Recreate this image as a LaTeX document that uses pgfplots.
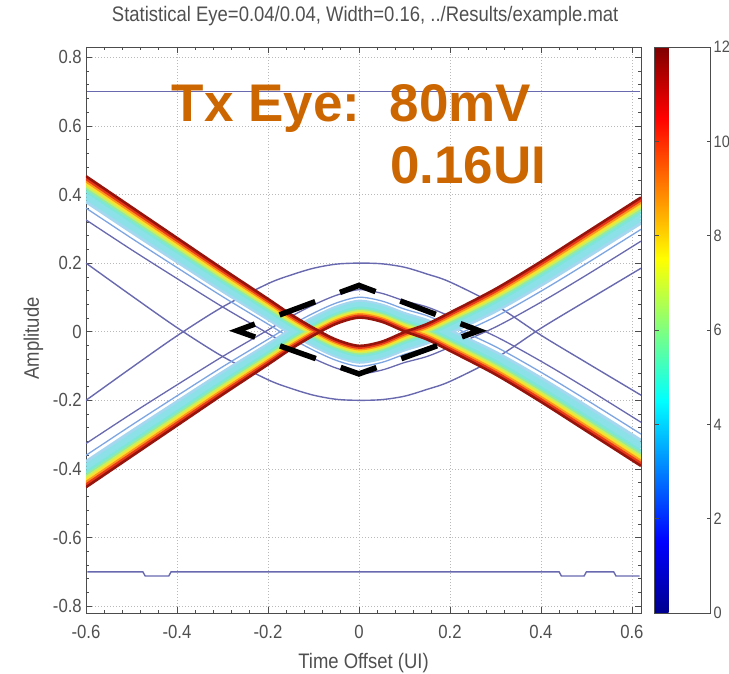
\documentclass[border=0pt]{standalone}
\usepackage{pgfplots}
\pgfplotsset{compat=1.18}
\usepackage{pgfplotstable}
\usepackage{fontspec}
\setmainfont{Liberation Sans}
\newfontfamily\mfont[FakeStretch=0.88]{Liberation Sans}
\newcommand{\lab}{\mfont\fontsize{19}{22}\selectfont}
\newcommand{\labl}{\mfont\fontsize{21}{24}\selectfont}
\newcommand{\labc}{\mfont\fontsize{16.5}{20}\selectfont}
\definecolor{txt}{RGB}{80,80,80}
\definecolor{ora}{RGB}{204,102,0}
\definecolor{cl}{RGB}{105,105,175}
\definecolor{lb}{RGB}{125,165,225}
\definecolor{c1}{RGB}{165,215,240}
\definecolor{c2}{RGB}{140,225,232}
\definecolor{c3}{RGB}{125,230,215}
\definecolor{c4}{RGB}{150,234,160}
\definecolor{c5}{RGB}{205,240,90}
\definecolor{c6}{RGB}{252,225,45}
\definecolor{c7}{RGB}{252,150,30}
\definecolor{c8}{RGB}{232,55,25}
\definecolor{c9}{RGB}{150,20,12}
\pgfplotsset{colormap={mjet}{rgb255(0cm)=(0,0,143) rgb255(1cm)=(0,0,255) rgb255(3cm)=(0,255,255) rgb255(5cm)=(255,255,0) rgb255(7cm)=(255,0,0) rgb255(8cm)=(128,0,0)}}
% a = red edge of upper-outer band, b = red edge of lower-outer band,
% w = vertical width of coloured band, oa/ob = outermost contours
\pgfplotstableread{
x      a       b       w      oa      ob
-0.60  0.455  -0.455  0.086  0.200  -0.200
-0.50  0.365  -0.365  0.084  0.105  -0.105
-0.40  0.275  -0.275  0.080  0.012  -0.012
-0.30  0.185  -0.185  0.075  -0.072  0.072
-0.20  0.097  -0.097  0.068  -0.140  0.140
-0.15  0.052  -0.052  0.064  -0.165  0.165
-0.10  0.012  -0.012  0.060  -0.185  0.185
-0.05  -0.022  0.022  0.056  -0.197  0.197
0.00  -0.040   0.040  0.055  -0.200  0.200
0.05  -0.028   0.028  0.056  -0.198  0.198
0.10   0.000   0.000  0.060  -0.188  0.188
0.15   0.024  -0.024  0.064  -0.168  0.168
0.20   0.057  -0.057  0.068  -0.145  0.145
0.30   0.126  -0.126  0.075  -0.078  0.078
0.40   0.206  -0.206  0.080  0.010  -0.010
0.50   0.291  -0.291  0.084  0.090  -0.090
0.62   0.393  -0.393  0.086  0.185  -0.185
}\eye
\newcommand{\bandA}[3]{\addplot[#2, line width=#3, smooth] table[x=x, y expr=\thisrow{a}-#1*\thisrow{w}] {\eye};}
\newcommand{\bandB}[3]{\addplot[#2, line width=#3, smooth] table[x=x, y expr=\thisrow{b}+#1*\thisrow{w}] {\eye};}
\begin{document}
\begin{tikzpicture}
\path[use as bounding box] (-86pt,-60pt) rectangle (643pt,613pt);
\begin{axis}[
  at={(0pt,0pt)}, anchor=south west,
  scale only axis, width=555pt, height=566pt,
  xmin=-0.6, xmax=0.62, ymin=-0.82, ymax=0.83,
  no markers,
  xtick={-0.6,-0.4,-0.2,0,0.2,0.4,0.6},
  xticklabels={-0.6,-0.4,-0.2,0,0.2,0.4,0.6},
  ytick={-0.8,-0.6,-0.4,-0.2,0,0.2,0.4,0.6,0.8},
  yticklabels={-0.8,-0.6,-0.4,-0.2,0,0.2,0.4,0.6,0.8},
  minor x tick num=4, minor y tick num=4,
  tick align=inside,
  major tick length=6pt, minor tick length=3pt,
  tick style={gray!60!black, line width=0.6pt},
  axis line style={gray!60!black, line width=0.9pt},
  grid=major,
  major grid style={gray!55, line width=0.6pt, dash pattern=on 1pt off 2pt},
  xticklabel style={font=\lab, text=txt, inner sep=0pt, yshift=-12pt},
  yticklabel style={font=\lab, text=txt, inner sep=0pt, xshift=-4pt},
  title={Statistical Eye=0.04/0.04, Width=0.16, ../Results/example.mat},
  title style={at={(axis description cs:0.503,1.0336)}, anchor=base, font=\labl, text=txt},
  xlabel={Time Offset (UI)},
  xlabel style={at={(axis description cs:0.5,-0.0989)}, anchor=base, font=\labl, text=txt},
  ylabel={Amplitude},
  ylabel style={at={(axis description cs:-0.0847,0.485)}, anchor=base, rotate=0, font=\labl, text=txt},
  colormap name=mjet,
  colorbar,
  point meta min=0, point meta max=12,
  colorbar shift/.style={xshift=11pt},
  colorbar style={
    scale only axis, width=56pt, height=566pt,
    ytick={0,2,4,6,8,10,12},
    yticklabels={0,2,4,6,8,10,12},
    ytick pos=both, yticklabel pos=right,
    tick align=inside, major tick length=4pt,
    tick style={gray!60!black, line width=0.6pt},
    axis line style={gray!60!black, line width=0.9pt},
    yticklabel style={font=\labc, text=txt, inner sep=0pt, xshift=3pt},
  },
]
\addplot[cl, line width=1.4pt] coordinates {(-0.597,0.7) (0.617,0.7)};
\addplot[cl, line width=1.4pt] coordinates {(-0.597,-0.7) (-0.475,-0.7) (-0.47,-0.712) (-0.418,-0.712) (-0.413,-0.7) (0.44,-0.7) (0.445,-0.712) (0.495,-0.712) (0.5,-0.7) (0.56,-0.7) (0.565,-0.712) (0.617,-0.712)};
\addplot[cl, line width=1.4pt, smooth] table[x=x, y=oa] {\eye};
\addplot[cl, line width=1.4pt, smooth] table[x=x, y=ob] {\eye};
\bandA{1.5}{cl}{1.3pt}\bandB{1.5}{cl}{1.3pt}
\bandA{1.1}{lb}{1.3pt}\bandB{1.1}{lb}{1.3pt}
\bandA{0.88}{c1}{3.4pt}\bandB{0.88}{c1}{3.4pt}
\bandA{0.76}{c2}{3.4pt}\bandB{0.76}{c2}{3.4pt}
\bandA{0.64}{c2}{3.4pt}\bandB{0.64}{c2}{3.4pt}
\bandA{0.52}{c3}{3.2pt}\bandB{0.52}{c3}{3.2pt}
\bandA{0.42}{c4}{3.0pt}\bandB{0.42}{c4}{3.0pt}
\bandA{0.34}{c5}{3.0pt}\bandB{0.34}{c5}{3.0pt}
\bandA{0.26}{c6}{3.0pt}\bandB{0.26}{c6}{3.0pt}
\bandA{0.18}{c7}{3.0pt}\bandB{0.18}{c7}{3.0pt}
\bandA{0.10}{c8}{3.0pt}\bandB{0.10}{c8}{3.0pt}
\bandA{0.02}{c9}{2.6pt}\bandB{0.02}{c9}{2.6pt}
\addplot[black, line width=5.5pt, dash pattern=on 38pt off 26.4pt, dash phase=19pt, line join=miter] coordinates {(-0.268,0.003) (0,0.135) (0.264,0.003) (0,-0.123) (-0.268,0.003) (-0.201,0.036)};
\node[anchor=base west, inner sep=0pt, text=ora, font=\fontsize{53}{60}\selectfont\bfseries] at (axis cs:-0.4116,0.6122) {Tx Eye:\ \ 80mV};
\node[anchor=base west, inner sep=0pt, text=ora, font=\fontsize{53}{60}\selectfont\bfseries] at (axis cs:0.0683,0.4326) {0.16UI};
\end{axis}
\end{tikzpicture}
\end{document}
